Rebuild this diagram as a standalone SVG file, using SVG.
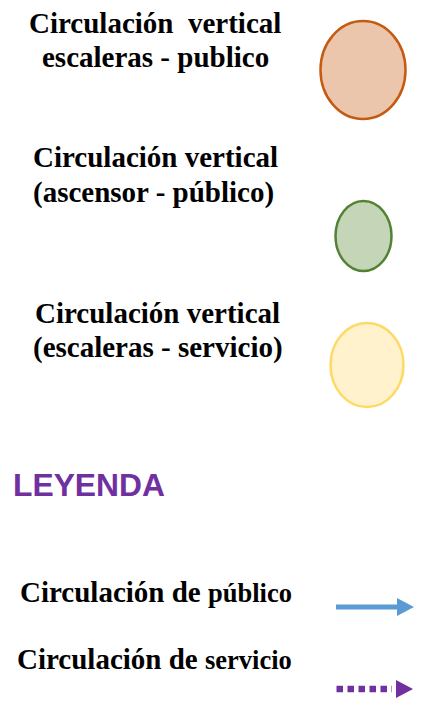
<svg xmlns="http://www.w3.org/2000/svg" width="423" height="702" viewBox="0 0 423 702">
<style>
.t{font-family:"Liberation Serif","Times New Roman",serif;font-weight:bold;font-size:29px;fill:#000}
.s{font-size:26.5px}
.h{font-family:"Liberation Sans",Arial,sans-serif;font-weight:bold;font-size:31.8px;fill:#7030A0}
</style>
<defs>
<marker id="ab" markerUnits="userSpaceOnUse" markerWidth="18" markerHeight="18" refX="0" refY="9" orient="auto"><path d="M0,0 L17,9 L0,18 Z" fill="#5B9BD5"/></marker>
<marker id="ap" markerUnits="userSpaceOnUse" markerWidth="18" markerHeight="18" refX="-4" refY="9" orient="auto"><path d="M0,0 L17,9 L0,18 Z" fill="#7030A0"/></marker>
</defs>
<rect width="423" height="702" fill="#fff"/>
<g id="n1">
<text class="t" x="29" y="33" xml:space="preserve">Circulación  vertical</text>
<text class="t" x="42" y="67">escaleras - publico</text>
<ellipse cx="363" cy="70" rx="42.5" ry="49" fill="#EBC6AD" stroke="#C55A11" stroke-width="2.5"/>
</g>
<g id="n2">
<text class="t" x="33" y="167">Circulación vertical</text>
<text class="t" x="33" y="202">(ascensor - público)</text>
<ellipse cx="363.5" cy="236" rx="28" ry="35" fill="#C5D5B8" stroke="#548235" stroke-width="2.5"/>
</g>
<g id="n3">
<text class="t" x="35" y="323">Circulación vertical</text>
<text class="t" x="33" y="357">(escaleras - servicio)</text>
<ellipse cx="367" cy="365" rx="36.5" ry="42" fill="#FFF2CC" stroke="#FFD966" stroke-width="2.5"/>
</g>
<g id="legend">
<text class="h" x="13" y="496">LEYENDA</text>
<text class="t" x="20" y="602">Circulación de <tspan class="s">público</tspan></text>
<text class="t" x="17" y="669">Circulación de <tspan class="s">servicio</tspan></text>
</g>
<g id="connectors">
<line x1="336" y1="607" x2="397" y2="607" stroke="#5B9BD5" stroke-width="5" marker-end="url(#ab)"/>
<line x1="336.5" y1="689" x2="392" y2="689" stroke="#7030A0" stroke-width="6.5" stroke-dasharray="6.5,4.5" marker-end="url(#ap)"/>
</g>
</svg>
